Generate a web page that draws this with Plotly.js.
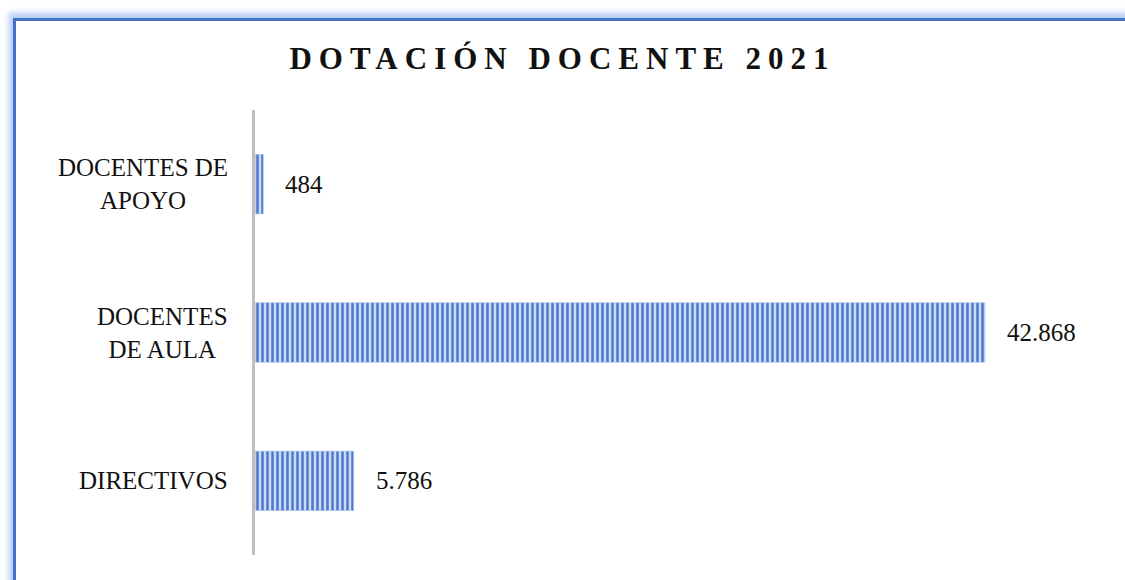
<!DOCTYPE html>
<html>
<head>
<meta charset="utf-8">
<script src="https://cdn.plot.ly/plotly-3.0.1.min.js"></script>
<style>
  html, body { margin: 0; padding: 0; background: #ffffff; overflow: hidden; }
  #frame {
    position: absolute; left: 13px; top: 18px; width: 1200px; height: 700px;
    border-top: 3px solid #4472c4; border-left: 3px solid #4472c4;
    box-shadow: -2px -3px 6px 2px rgba(120, 160, 240, 0.55);
    background: #ffffff;
  }
  #chart { position: absolute; left: 0; top: 0; width: 1125px; height: 580px; }
  .gtitle { letter-spacing: 7px; }
</style>
</head>
<body>
<div id="frame"></div>
<div id="chart"></div>
<script>
// Data (bottom to top)
const categories = ["DIRECTIVOS", "DOCENTES DE AULA", "DOCENTES DE APOYO"];
const tickLabels = ["DIRECTIVOS", "DOCENTES<br>DE AULA", "DOCENTES DE<br>APOYO"];
const values = [5786, 42868, 484];
const titleText = "DOTACIÓN DOCENTE 2021";

function fmt(n) {
  return String(n).replace(/\B(?=(\d{3})+(?!\d))/g, ".");
}

const serif = "Liberation Serif";

const trace = {
  type: "bar",
  orientation: "h",
  y: categories,
  x: values,
  marker: {
    color: "#4d78cf",
    line: { color: "#8eaee6", width: 0.5 },
    pattern: { shape: "|", size: 5, solidity: 0.5, fgcolor: "#4d78cf", bgcolor: "#cddcf5", fillmode: "replace" }
  },
  hoverinfo: "none"
};

const annotations = [];
categories.forEach((c, i) => {
  annotations.push({
    x: values[i], y: c, xref: "x", yref: "y",
    text: fmt(values[i]), showarrow: false,
    xanchor: "left", xshift: 20,
    font: { family: serif, size: 25, color: "#111111" }
  });
  annotations.push({
    x: 0, y: c, xref: "paper", yref: "y",
    text: tickLabels[i], showarrow: false,
    xanchor: "right", xshift: -25, align: "center",
    font: { family: serif, size: 25, color: "#111111" }
  });
});

const layout = {
  width: 1125, height: 580,
  font: { family: serif },
  paper_bgcolor: "rgba(0,0,0,0)",
  plot_bgcolor: "rgba(0,0,0,0)",
  margin: { l: 255, r: 20, t: 110, b: 25 },
  bargap: 0.6,
  showlegend: false,
  title: {
    text: "<b>" + titleText + "</b>",
    font: { family: serif, size: 31, color: "#111111" },
    x: 0.5, xanchor: "center", xref: "container",
    y: 0.9, yanchor: "middle", yref: "container"
  },
  xaxis: {
    range: [0, 49914], showgrid: false, zeroline: false,
    showticklabels: false, showline: false, ticks: "", fixedrange: true
  },
  yaxis: {
    type: "category", categoryorder: "array", categoryarray: categories,
    showticklabels: false, showline: true, linecolor: "#bfbfbf", linewidth: 3,
    showgrid: false, zeroline: false, ticks: "", fixedrange: true
  },
  annotations: annotations
};

Plotly.newPlot("chart", [trace], layout, { displayModeBar: false, staticPlot: true });
</script>
</body>
</html>
